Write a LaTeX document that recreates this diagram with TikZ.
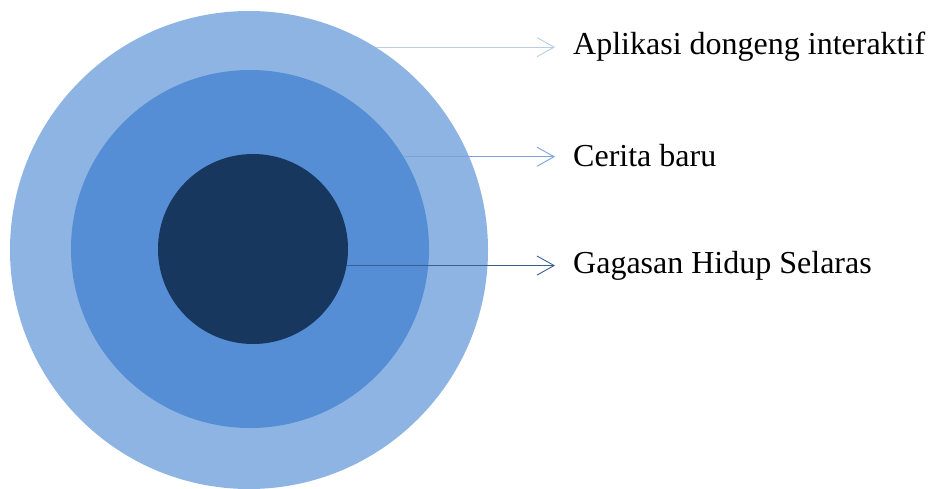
\documentclass[tikz,border=0pt]{standalone}
\usepackage{fontspec}
\setmainfont{Liberation Serif}
\usetikzlibrary{arrows.meta}
\definecolor{ringouter}{HTML}{8EB4E3}
\definecolor{ringmiddle}{HTML}{558ED5}
\definecolor{ringinner}{HTML}{17375E}
\definecolor{lineouter}{HTML}{B9CDE5}
\definecolor{linemiddle}{HTML}{7AA3DD}
\definecolor{lineinner}{HTML}{3B5F91}
\tikzset{
  ring/.style={circle, inner sep=0pt, draw=none},
  label text/.style={anchor=west, inner sep=0pt, font=\fontsize{32}{38}\selectfont},
  pointer/.style={line width=0.9pt, -{Straight Barb[length=17pt, width=19pt, line width=0.9pt]}}
}

\begin{document}
\begin{tikzpicture}[x=1pt, y=-1pt]
    \useasboundingbox (0,0) rectangle (928,488);
    \node[ring, fill=ringouter, minimum size=478pt] (outer) at (249,250) {};
    \node[ring, fill=ringmiddle, minimum size=358pt] (middle) at (250,249) {};
    \node[ring, fill=ringinner, minimum size=190pt] (inner) at (253,249) {};
    \node[label text] (app) at (573,47) {Aplikasi dongeng interaktif};
    \node[label text] (story) at (573,156) {Cerita baru};
    \node[label text] (idea) at (573,266) {Gagasan Hidup Selaras};
    \coordinate (tip) at (555,0);
    \draw[pointer, lineouter] (outer.58) -- (outer.58 -| tip);
    \draw[pointer, linemiddle] (middle.31.7) -- (middle.31.7 -| tip);
    \draw[pointer, lineinner] (inner.-10.3) -- (inner.-10.3 -| tip);
  \end{tikzpicture}
\end{document}
